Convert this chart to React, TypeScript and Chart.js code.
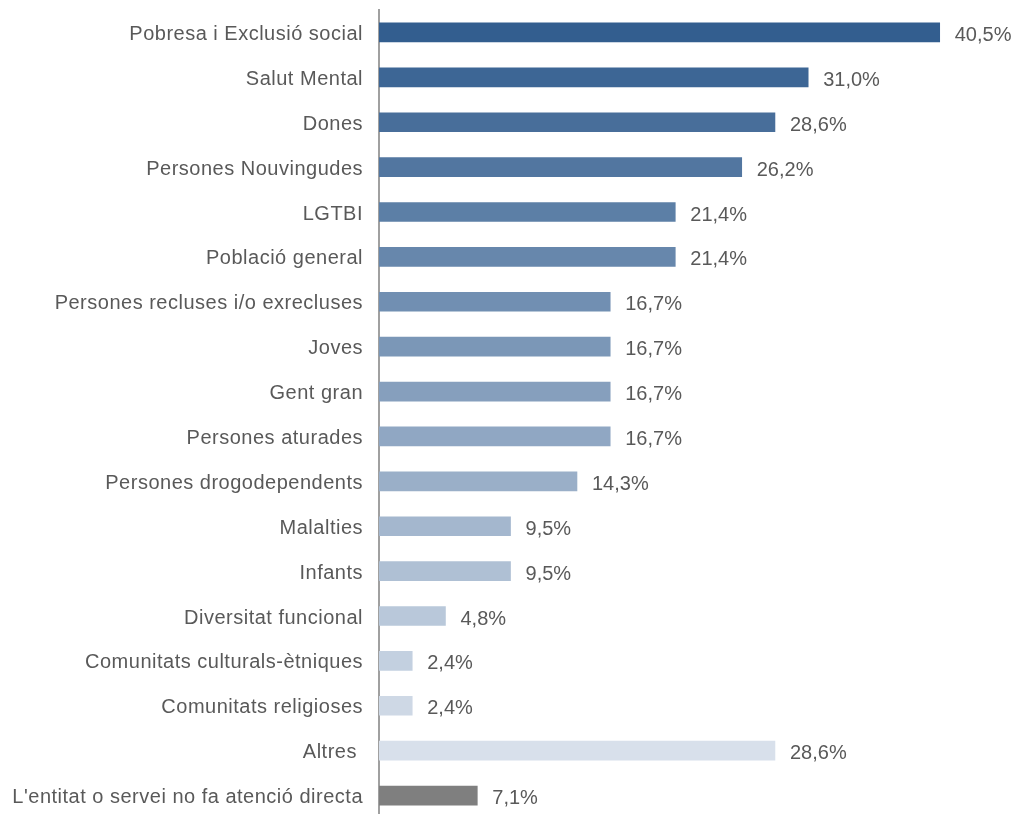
import React, { useEffect, useRef } from "react";
import { Chart, registerables } from "chart.js";

Chart.register(...registerables);

const categories = [
  "Pobresa i Exclusió social",
  "Salut Mental",
  "Dones",
  "Persones Nouvingudes",
  "LGTBI",
  "Població general",
  "Persones recluses i/o exrecluses",
  "Joves",
  "Gent gran",
  "Persones aturades",
  "Persones drogodependents",
  "Malalties",
  "Infants",
  "Diversitat funcional",
  "Comunitats culturals-ètniques",
  "Comunitats religioses",
  "Altres ",
  "L'entitat o servei no fa atenció directa",
];

const values = [40.5, 31.0, 28.6, 26.2, 21.4, 21.4, 16.7, 16.7, 16.7, 16.7, 14.3, 9.5, 9.5, 4.8, 2.4, 2.4, 28.6, 7.1];

const barColors = [
  "#335E8F", "#3D6695", "#486E9A", "#5276A0", "#5C7FA6", "#6787AC",
  "#718FB2", "#7B97B7", "#869FBD", "#90A7C3", "#9AAFC8", "#A4B7CE",
  "#AFC0D4", "#B9C8DA", "#C3D0E0", "#CED8E5", "#D8E0EB", "#7F7F7F",
];

const FONT = '"Liberation Sans", Arial, Helvetica, sans-serif';
const TEXT = "#595959";

const fmt = (v: number) => v.toFixed(1).replace(".", ",") + "%";

const labelPlugin = {
  id: "valueLabels",
  beforeDraw(chart: any) {
    chart.ctx.letterSpacing = "0.5px";
  },
  afterDatasetsDraw(chart: any) {
    const ctx = chart.ctx;
    ctx.save();
    ctx.letterSpacing = "0px";
    ctx.font = `20px ${FONT}`;
    ctx.fillStyle = TEXT;
    ctx.textAlign = "left";
    ctx.textBaseline = "middle";
    const meta = chart.getDatasetMeta(0);
    meta.data.forEach((bar: any, i: number) => {
      ctx.fillText(fmt(values[i]), bar.x + 15, bar.y + 3);
    });
    ctx.restore();
  },
};

export default function App() {
  const ref = useRef<HTMLCanvasElement | null>(null);
  useEffect(() => {
    if (!ref.current) return;
    const chart = new Chart(ref.current, {
      type: "bar",
      data: {
        labels: categories,
        datasets: [
          {
            data: values,
            backgroundColor: barColors,
            barThickness: 19,
            borderWidth: 0,
          },
        ],
      },
      options: {
        indexAxis: "y",
        animation: false,
        responsive: true,
        maintainAspectRatio: false,
        layout: { padding: { top: 2, right: 9, left: 0, bottom: 0 } },
        plugins: {
          legend: { display: false },
          tooltip: { enabled: false },
        },
        scales: {
          x: { display: false, min: 0, max: 45 },
          y: {
            grid: { display: false, drawTicks: false },
            border: { display: true, color: "#A0A0A0", width: 2 },
            ticks: {
              color: TEXT,
              font: { family: FONT, size: 20 },
              padding: 16,
              labelOffset: 2,
              autoSkip: false,
            },
            afterFit(scale: any) {
              scale.width = 371;
              scale.paddingTop = 0;
              scale.paddingBottom = 0;
            },
          },
        },
      },
      plugins: [labelPlugin],
    });
    return () => chart.destroy();
  }, []);
  return (
    <div style={{ width: 1003, height: 810, position: "relative" }}>
      <canvas ref={ref} />
    </div>
  );
}
